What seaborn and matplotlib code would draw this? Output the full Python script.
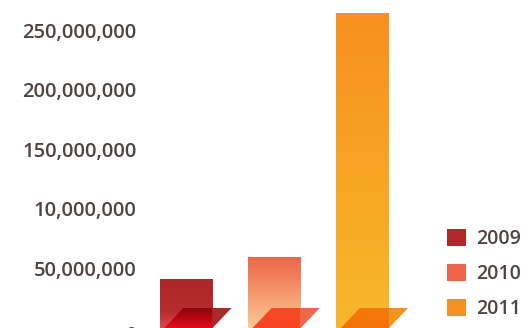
import numpy as np
import pandas as pd
import seaborn as sns
import matplotlib.pyplot as plt
import matplotlib.transforms as mtransforms
from matplotlib.colors import LinearSegmentedColormap
from matplotlib.patches import Polygon, Patch

sns.set_style('white')
plt.rcParams['font.family'] = ['Open Sans', 'DejaVu Sans']
plt.rcParams['font.weight'] = 'semibold'

# data
years = ['2009', '2010', '2011']
revenue = [41_000_000, 60_000_000, 265_000_000]
tick_values = [0, 50_000_000, 100_000_000, 150_000_000, 200_000_000, 250_000_000]
tick_labels = ['0', '50,000,000', '10,000,000', '150,000,000', '200,000,000', '250,000,000']

legend_colors = ['#b0282a', '#ee6549', '#f7901e']
# bar fill gradients, (position from bottom, colour)
bar_grads = [
    [(0, '#e2454b'), (0.35, '#b52a2d'), (1, '#af2628')],
    [(0, '#fdca95'), (1, '#ec6345')],
    [(0, '#f8b82b'), (1, '#f7901e')],
]
shadow_in = [('#e50c18', '#8a0008'), ('#f94421', '#f84a24'), ('#f47208', '#f47a0a')]
shadow_out = ['#a82a2a', '#ea684c', '#f6921f']
text_color = '#4d4542'

ymax = 275_600_000
shadow_h = ymax * 20 / 328

df = pd.DataFrame({'year': years, 'revenue': revenue})

fig = plt.figure(figsize=(5.28, 3.28), dpi=100)
ax = fig.add_axes([145 / 528, 0, 1 - 145 / 528, 1])
sns.barplot(data=df, x='year', y='revenue', hue='year', palette=legend_colors,
            width=0.6, saturation=1, legend=False, ax=ax)

grad = np.linspace(0, 1, 256).reshape(-1, 1)
for p, stops, sin, sout in zip(ax.patches, bar_grads, shadow_in, shadow_out):
    x0, w, h = p.get_x(), p.get_width(), p.get_height()
    cmap = LinearSegmentedColormap.from_list('bar', stops)
    im = ax.imshow(grad, extent=[x0, x0 + w, 0, h], origin='lower', cmap=cmap,
                   aspect='auto', zorder=2)
    im.set_clip_path(p)

    # slanted shadow at the foot of each bar
    inner = Polygon([(x0 + 0.09 * w, 0), (x0 + 0.45 * w, shadow_h), (x0 + w, shadow_h), (x0 + w, 0)],
                    closed=True, facecolor='none', edgecolor='none', transform=ax.transData)
    ax.add_patch(inner)
    cm2 = LinearSegmentedColormap.from_list('sh', [sin[0], sin[1]])
    im2 = ax.imshow(grad, extent=[x0, x0 + w, 0, shadow_h], origin='lower', cmap=cm2,
                    aspect='auto', zorder=3)
    im2.set_clip_path(inner)
    ax.add_patch(Polygon([(x0 + w, shadow_h), (x0 + 1.36 * w, shadow_h), (x0 + w, 0)],
                         closed=True, facecolor=sout, edgecolor='none', zorder=3))

ax.set_xlim(-0.465, 3.875)
ax.set_ylim(0, ymax)
ax.set_xticks([])
ax.set_yticks(tick_values, tick_labels)
ax.tick_params(axis='y', length=0, pad=6, labelsize=14.5, labelcolor=text_color)
ax.set_xlabel('')
ax.set_ylabel('')
for s in ax.spines.values():
    s.set_visible(False)

# the "0" label sits a little lower in the original
zero = ax.get_yticklabels()[0]
zero.set_transform(zero.get_transform() + mtransforms.ScaledTranslation(0, -4 / 72, fig.dpi_scale_trans))

handles = [Patch(facecolor=c, edgecolor='none') for c in legend_colors]
ax.legend(handles, years, loc='center left', bbox_to_anchor=(447 / 528, 1 - 274 / 328),
          bbox_transform=fig.transFigure, frameon=False, fontsize=14, labelcolor=text_color,
          handlelength=1.0, handleheight=1.0, handletextpad=0.5, labelspacing=0.75,
          borderpad=0, borderaxespad=0)

fig.savefig('out.png', dpi=100)
